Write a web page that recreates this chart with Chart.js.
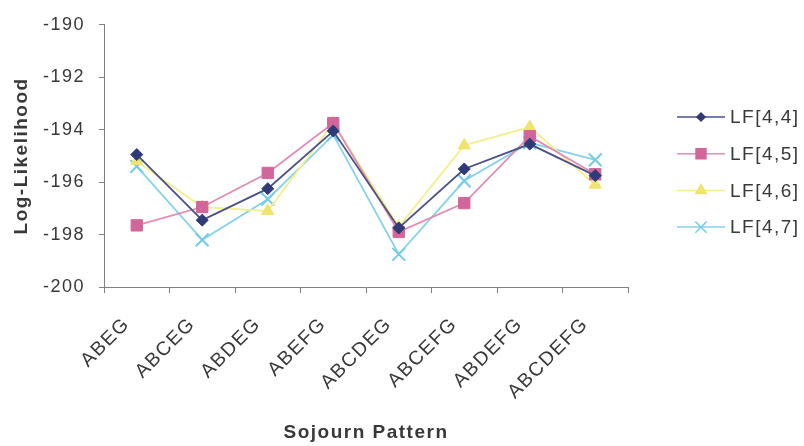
<!DOCTYPE html>
<html>
<head>
<meta charset="utf-8">
<script src="https://cdn.jsdelivr.net/npm/chart.js@4/dist/chart.umd.min.js"></script>
<style>
    html, body { margin: 0; padding: 0; background: #fff; }
    canvas { display: block; }
</style>
</head>
<body>
<canvas id="llChart" width="804" height="446"></canvas>
<script>
// sojourn patterns on the x axis
const patterns = ['ABEG', 'ABCEG', 'ABDEG', 'ABEFG', 'ABCDEG', 'ABCEFG', 'ABDEFG', 'ABCDEFG'];

// log-likelihood per model
const lf44 = [-194.95, -197.45, -196.25, -194.05, -197.75, -195.5, -194.55, -195.75];
const lf45 = [-197.65, -196.95, -195.65, -193.75, -197.9, -196.8, -194.25, -195.7];
const lf46 = [-195.2, -196.95, -197.1, -193.75, -197.7, -194.6, -193.9, -196.1];
const lf47 = [-195.4, -198.2, -196.65, -194.2, -198.75, -195.95, -194.5, -195.15];

const yMin = -200;
const yMax = -190;
const yStep = 2;

const textColor = '#383838';
const axisColor = '#808080';
const fontFamily = '"Liberation Sans", Arial, sans-serif';

const series = [
    { label: 'LF[4,4]', data: lf44, line: '#4a5288', fill: '#2f3a78', style: 'rectRot', r: 6, lr: 4 },
    { label: 'LF[4,5]', data: lf45, line: '#e38bb2', fill: '#d2669a', style: 'rect', r: 8, lr: 7 },
    { label: 'LF[4,6]', data: lf46, line: '#f4ef8c', fill: '#f0e36e', style: 'triangle', r: 7, lr: 6 },
    { label: 'LF[4,7]', data: lf47, line: '#86d2ec', fill: '#74cbe8', style: 'crossRot', r: 9, lr: 8 },
];

// legend with a line through the marker, drawn to the right of the plot
const sideLegend = {
    id: 'sideLegend',
    afterDraw(chart) {
        const ctx = chart.ctx;
        ctx.save();
        ctx.font = '19px ' + fontFamily;
        ctx.textBaseline = 'middle';
        ctx.textAlign = 'left';
        series.forEach((s, i) => {
            const y = 117 + i * 36.7;
            ctx.strokeStyle = s.line;
            ctx.lineWidth = 1.5;
            ctx.beginPath();
            ctx.moveTo(677, y);
            ctx.lineTo(725, y);
            ctx.stroke();
            ctx.fillStyle = s.fill;
            ctx.strokeStyle = s.fill;
            Chart.helpers.drawPoint(ctx, { pointStyle: s.style, radius: s.lr, rotation: 0, borderWidth: s.style === 'crossRot' ? 2 : 1 }, 701, y);
            ctx.fillStyle = textColor;
            ctx.fillText(s.label, 730, y + 1);
        });
        ctx.restore();
    },
};

// slightly tracked text like the rest of the chart
const tracking = {
    id: 'tracking',
    beforeUpdate(chart) { chart.ctx.letterSpacing = '1.5px'; },
    beforeDraw(chart) { chart.ctx.letterSpacing = '1.5px'; },
};

new Chart(document.getElementById('llChart').getContext('2d'), {
    type: 'line',
    data: {
        labels: patterns,
        datasets: series.map((s) => ({
            label: s.label,
            data: s.data,
            borderColor: s.line,
            backgroundColor: s.fill,
            pointBorderColor: s.fill,
            pointBackgroundColor: s.fill,
            pointStyle: s.style,
            pointRadius: s.r,
            pointBorderWidth: s.style === 'crossRot' ? 2 : 1,
            borderWidth: 1.8,
            tension: 0,
        })),
    },
    options: {
        responsive: false,
        animation: false,
        layout: { padding: { top: 18, right: 176, left: 0, bottom: 0 } },
        plugins: {
            legend: { display: false },
            tooltip: { enabled: false },
        },
        scales: {
            x: {
                offset: true,
                grid: { offset: true, drawOnChartArea: false, drawTicks: true, tickLength: 6, color: axisColor },
                border: { color: axisColor, width: 1 },
                ticks: {
                    minRotation: 45,
                    maxRotation: 45,
                    padding: 20,
                    labelOffset: -10,
                    color: textColor,
                    font: { family: fontFamily, size: 19.5 },
                },
                title: {
                    display: true,
                    text: 'Sojourn Pattern',
                    color: textColor,
                    padding: { top: 0, bottom: 2 },
                    font: { family: fontFamily, size: 19, weight: 'bold' },
                },
                afterFit(scale) { scale.height = 159; },
            },
            y: {
                min: yMin,
                max: yMax,
                grid: { drawOnChartArea: false, drawTicks: true, tickLength: 5, color: axisColor },
                border: { color: axisColor, width: 1 },
                ticks: {
                    stepSize: yStep,
                    padding: 14,
                    color: textColor,
                    font: { family: fontFamily, size: 18 },
                },
                title: {
                    display: true,
                    text: 'Log-Likelihood',
                    color: textColor,
                    padding: { top: 10, bottom: 0 },
                    font: { family: fontFamily, size: 19, weight: 'bold' },
                },
                afterFit(scale) { scale.width = 104; },
            },
        },
    },
    plugins: [tracking, sideLegend],
});
</script>
</body>
</html>
